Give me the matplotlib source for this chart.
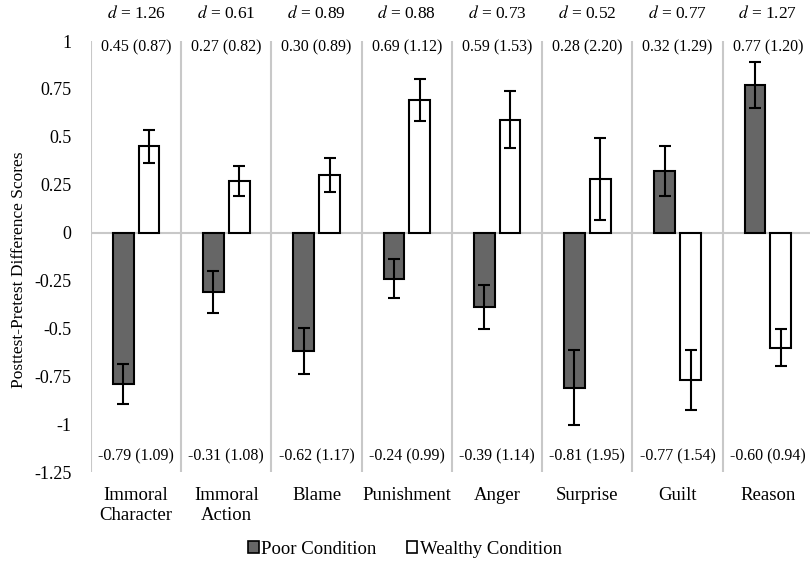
import numpy as np
import matplotlib
matplotlib.use("Agg")
import matplotlib.pyplot as plt
import matplotlib.transforms as mtransforms

plt.rcParams['font.family'] = ['Liberation Serif', 'DejaVu Serif']

# data
categories = ['Immoral\nCharacter', 'Immoral\nAction', 'Blame', 'Punishment',
              'Anger', 'Surprise', 'Guilt', 'Reason']
poor = [-0.79, -0.31, -0.62, -0.24, -0.39, -0.81, 0.32, 0.77]
poor_sd = [1.09, 1.08, 1.17, 0.99, 1.14, 1.95, 1.29, 1.20]
poor_err = [0.105, 0.11, 0.12, 0.10, 0.115, 0.195, 0.13, 0.12]
wealthy = [0.45, 0.27, 0.30, 0.69, 0.59, 0.28, -0.77, -0.60]
wealthy_sd = [0.87, 0.82, 0.89, 1.12, 1.53, 2.20, 1.54, 0.94]
wealthy_err = [0.085, 0.08, 0.09, 0.11, 0.15, 0.215, 0.155, 0.095]
cohen_d = [1.26, 0.61, 0.89, 0.88, 0.73, 0.52, 0.77, 1.27]

x = np.arange(len(categories))
w = 0.23
off = 0.143

fig = plt.figure(figsize=(8.1, 5.66), dpi=100)
ax = fig.add_axes([0.1123, 0.166, 0.8914, 0.7615])

ax.bar(x - off, poor, w, color='#666666', edgecolor='black', linewidth=1.5,
       label='Poor Condition', zorder=3)
ax.bar(x + off, wealthy, w, color='white', edgecolor='black', linewidth=1.5,
       label='Wealthy Condition', zorder=3)
ax.errorbar(x - off, poor, yerr=poor_err, fmt='none', ecolor='black',
            elinewidth=1.5, capsize=4, capthick=1.5, zorder=4)
ax.errorbar(x + off, wealthy, yerr=wealthy_err, fmt='none', ecolor='black',
            elinewidth=1.5, capsize=4, capthick=1.5, zorder=4)

# category separators and zero line
for s in np.arange(-0.5, len(categories), 1.0):
    ax.axvline(s, color='#c8c8c8', linewidth=1.5, zorder=1)
ax.axhline(0, color='#c8c8c8', linewidth=1.5, zorder=2)

ax.set_xlim(-0.5, len(categories) - 0.5)
ax.set_ylim(-1.25, 1)
ax.set_yticks([1, 0.75, 0.5, 0.25, 0, -0.25, -0.5, -0.75, -1, -1.25])
ax.set_yticklabels(['1', '0.75', '0.5', '0.25', '0', '-0.25', '-0.5', '-0.75', '-1', '-1.25'])
ax.set_xticks(x)
ax.set_xticklabels(categories, linespacing=1.2)
ax.tick_params(axis='both', length=0, labelsize=13)
ax.tick_params(axis='x', pad=11, labelsize=13.5)
ax.tick_params(axis='y', pad=14)
for sp in ax.spines.values():
    sp.set_visible(False)

ax.set_ylabel('Posttest-Pretest Difference Scores', fontsize=12.5)
ax.yaxis.set_label_coords(-0.088, 0.47)

trans = mtransforms.blended_transform_factory(ax.transData, ax.transAxes)
for i in range(len(categories)):
    ax.text(x[i], 1.063, '$d$ = %.2f' % cohen_d[i], transform=trans,
            ha='center', va='center', fontsize=12.5,
            math_fontfamily='stix')
    ax.text(x[i], 0.965, '%.2f (%.2f)' % (max(poor[i], wealthy[i]),
            wealthy_sd[i] if wealthy[i] > poor[i] else poor_sd[i]),
            ha='center', va='center', fontsize=11.5)
    ax.text(x[i], -1.17, '%.2f (%.2f)' % (min(poor[i], wealthy[i]),
            wealthy_sd[i] if wealthy[i] < poor[i] else poor_sd[i]),
            ha='center', va='center', fontsize=11.5)

leg = fig.legend(loc='center', bbox_to_anchor=(0.5, 0.03), ncol=2, frameon=False,
                 prop={'family': 'Liberation Serif', 'size': 13.5},
                 handlelength=0.55, handleheight=0.55,
                 handletextpad=0.15, columnspacing=1.6)
for h in leg.legend_handles:
    h.set_linewidth(1.2)

fig.savefig('out.png', dpi=100)
